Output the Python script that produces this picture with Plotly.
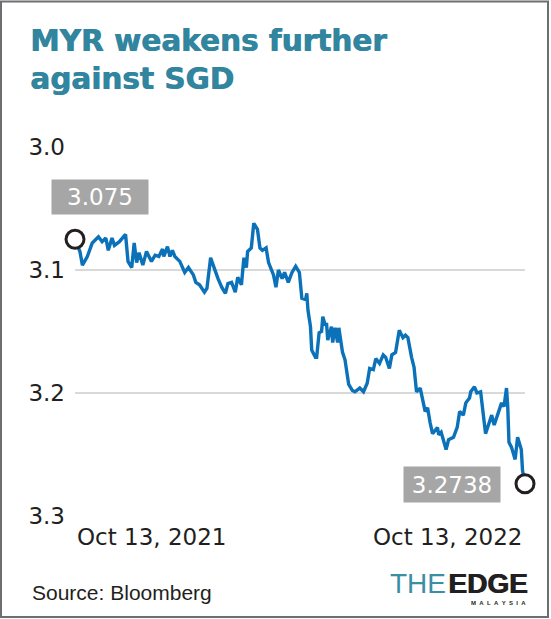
import plotly.graph_objects as go

# ---- data (MYR per SGD) ----
dates = [
    "2021-10-13", "2021-10-17", "2021-10-19", "2021-10-23", "2021-10-27",
    "2021-11-01", "2021-11-04", "2021-11-07", "2021-11-09", "2021-11-12", "2021-11-14",
    "2021-11-18", "2021-11-23", "2021-11-25", "2021-11-28", "2021-11-30",
    "2021-12-02", "2021-12-04", "2021-12-07", "2021-12-10", "2021-12-14", "2021-12-17",
    "2021-12-20", "2021-12-23", "2021-12-24", "2021-12-27", "2021-12-29", "2021-12-31",
    "2022-01-02", "2022-01-06", "2022-01-10", "2022-01-13", "2022-01-17", "2022-01-19",
    "2022-01-22", "2022-01-26", "2022-01-28", "2022-01-31",
    "2022-02-01", "2022-02-04", "2022-02-06", "2022-02-09", "2022-02-12", "2022-02-14",
    "2022-02-17", "2022-02-20", "2022-02-22", "2022-02-25", "2022-02-27",
    "2022-03-01", "2022-03-02", "2022-03-05", "2022-03-07", "2022-03-10", "2022-03-12",
    "2022-03-14", "2022-03-17", "2022-03-19", "2022-03-23", "2022-03-25", "2022-03-27",
    "2022-03-30",
    "2022-04-01", "2022-04-04", "2022-04-07", "2022-04-10", "2022-04-13", "2022-04-15",
    "2022-04-18", "2022-04-19", "2022-04-20", "2022-04-22", "2022-04-23", "2022-04-26",
    "2022-04-27", "2022-04-29",
    "2022-05-01", "2022-05-02", "2022-05-04", "2022-05-05", "2022-05-06", "2022-05-09",
    "2022-05-10", "2022-05-12", "2022-05-14", "2022-05-15", "2022-05-18", "2022-05-20",
    "2022-05-22", "2022-05-23", "2022-05-26", "2022-05-28",
    "2022-06-01", "2022-06-04", "2022-06-07", "2022-06-09", "2022-06-12", "2022-06-14",
    "2022-06-17", "2022-06-20", "2022-06-22", "2022-06-25", "2022-06-27", "2022-06-30",
    "2022-07-03", "2022-07-06", "2022-07-08", "2022-07-10", "2022-07-13", "2022-07-15",
    "2022-07-17", "2022-07-20", "2022-07-24", "2022-07-26", "2022-07-28", "2022-07-30",
    "2022-08-03", "2022-08-04", "2022-08-06", "2022-08-08", "2022-08-10", "2022-08-12",
    "2022-08-16", "2022-08-19", "2022-08-21", "2022-08-24", "2022-08-26", "2022-08-29",
    "2022-08-30",
    "2022-09-02", "2022-09-04", "2022-09-07", "2022-09-09", "2022-09-11", "2022-09-14",
    "2022-09-16", "2022-09-18", "2022-09-20", "2022-09-24", "2022-09-26", "2022-09-28",
    "2022-09-29", "2022-09-30",
    "2022-10-02", "2022-10-05", "2022-10-07", "2022-10-10", "2022-10-11", "2022-10-13",
]

values = [
    3.075, 3.085, 3.096, 3.089, 3.078,
    3.073, 3.077, 3.074, 3.084, 3.074, 3.080,
    3.077, 3.071, 3.093, 3.098, 3.078,
    3.094, 3.086, 3.096, 3.085, 3.093, 3.088,
    3.089, 3.083, 3.089, 3.081, 3.089, 3.084,
    3.089, 3.093, 3.102, 3.098, 3.104, 3.110,
    3.112, 3.118, 3.115, 3.090,
    3.093, 3.102, 3.107, 3.114, 3.119, 3.111,
    3.110, 3.118, 3.106, 3.112, 3.090,
    3.098, 3.085, 3.082, 3.062, 3.067, 3.082,
    3.084, 3.082, 3.094, 3.104, 3.114, 3.100,
    3.107,
    3.102, 3.110, 3.102, 3.097, 3.102, 3.123,
    3.124, 3.119, 3.133, 3.146, 3.165, 3.171,
    3.171, 3.151,
    3.150, 3.138, 3.145, 3.143, 3.157, 3.146,
    3.159, 3.147, 3.159, 3.147, 3.167, 3.173,
    3.187, 3.193, 3.198, 3.199,
    3.196, 3.199, 3.192, 3.180, 3.181, 3.172,
    3.176, 3.169, 3.171, 3.180, 3.169, 3.167,
    3.149, 3.155, 3.153, 3.155, 3.171, 3.179,
    3.199, 3.196, 3.215, 3.212, 3.224, 3.233,
    3.228, 3.234, 3.232, 3.238, 3.246, 3.238,
    3.236, 3.228, 3.215, 3.218, 3.208, 3.204,
    3.199,
    3.195, 3.200, 3.199, 3.216, 3.233, 3.224,
    3.218, 3.226, 3.220, 3.208, 3.211, 3.196,
    3.211, 3.240,
    3.244, 3.254, 3.236, 3.246, 3.263, 3.2738,
]

y_ticks = [3.0, 3.1, 3.2, 3.3]
y_tick_labels = ["3.0", "3.1", "3.2", "3.3"]
start_label = "Oct 13, 2021"
end_label = "Oct 13, 2022"
start_value_label = "3.075"
end_value_label = "3.2738"
title_text = "MYR weakens further<br>against SGD"
source_text = "Source: Bloomberg"

assert len(dates) == len(values)

# ---- layout geometry ----
W, H = 551, 619
L, R, T, B = 75, 26, 147, 103
PW, PH = W - L - R, H - T - B


def px(x):
    return (x - L) / PW


def py(y):
    return (H - B - y) / PH


AX_FONT = "DejaVu Sans"
DARK = "#231f20"
BLUE = "#0b72b9"
TEAL = "#31859f"
BOX = "#a6a6a6"

fig = go.Figure()
fig.add_trace(go.Scatter(
    x=dates, y=values, mode="lines",
    line=dict(color=BLUE, width=3.4), cliponaxis=False,
    hoverinfo="skip",
))
fig.add_trace(go.Scatter(
    x=[dates[0], dates[-1]], y=[values[0], values[-1]], mode="markers",
    marker=dict(size=18, color="white", line=dict(color=DARK, width=3)),
    cliponaxis=False, hoverinfo="skip",
))

annotations = [
    # title
    dict(text="<b>" + title_text + "</b>", xref="paper", yref="paper",
         x=px(28), y=py(22), xanchor="left", yanchor="top", align="left",
         showarrow=False,
         font=dict(family="DejaVu Sans", size=29.5, color=TEAL,
                   shadow="0.8px 0px 0px #31859f")),
    # value boxes
    dict(text=start_value_label, xref="paper", yref="paper",
         x=px(51), y=py(179), xanchor="left", yanchor="top",
         width=96, height=34, bgcolor=BOX, borderpad=0, showarrow=False,
         font=dict(family=AX_FONT, size=23, color="white")),
    dict(text=end_value_label, xref="paper", yref="paper",
         x=px(403), y=py(466), xanchor="left", yanchor="top",
         width=96, height=35, bgcolor=BOX, borderpad=0, showarrow=False,
         font=dict(family=AX_FONT, size=23, color="white")),
    # x labels
    dict(text=start_label, xref="x", yref="paper", x=dates[0], y=py(522),
         xanchor="left", yanchor="top", showarrow=False,
         font=dict(family=AX_FONT, size=23, color=DARK)),
    dict(text=end_label, xref="x", yref="paper", x=dates[-1], y=py(522),
         xanchor="right", yanchor="top", showarrow=False,
         font=dict(family=AX_FONT, size=23, color=DARK)),
    # source
    dict(text=source_text, xref="paper", yref="paper", x=px(30), y=py(592),
         xanchor="left", yanchor="middle", showarrow=False,
         font=dict(family="Liberation Sans", size=21, color=DARK)),
    # logo
    dict(text="THE", xref="paper", yref="paper", x=px(447), y=py(583),
         xanchor="right", yanchor="middle", showarrow=False, borderpad=0,
         font=dict(family="Liberation Sans", size=28, color="#3a8ea6")),
    dict(text="<b>EDGE</b>", xref="paper", yref="paper", x=px(528), y=py(583),
         xanchor="right", yanchor="middle", showarrow=False, borderpad=0,
         font=dict(family="Liberation Sans", size=28, color=DARK,
                   shadow="1px 0px 0px #231f20")),
    dict(text="<b>M\u00a0\u00a0A\u00a0\u00a0L\u00a0\u00a0A\u00a0\u00a0Y\u00a0\u00a0S\u00a0\u00a0I\u00a0\u00a0A</b>",
         xref="paper", yref="paper", x=px(527), y=py(599),
         xanchor="right", yanchor="top", showarrow=False, borderpad=0,
         font=dict(family="Liberation Sans", size=6, color=DARK)),
]

shapes = [
    dict(type="rect", xref="paper", yref="paper",
         x0=px(1), x1=px(548), y0=py(617), y1=py(1.5),
         line=dict(color="#6d6e71", width=2), fillcolor="rgba(0,0,0,0)", layer="below"),
]

fig.update_layout(
    width=W, height=H,
    margin=dict(l=L, r=R, t=T, b=B, pad=0),
    paper_bgcolor="white", plot_bgcolor="white",
    showlegend=False,
    annotations=annotations,
    shapes=shapes,
    xaxis=dict(range=[dates[0], dates[-1]], showgrid=False, zeroline=False,
               showticklabels=False, showline=False, ticks=""),
    yaxis=dict(range=[3.3, 3.0], tickvals=y_ticks, ticktext=y_tick_labels,
               showgrid=True, gridcolor="#d9d9d9", gridwidth=1.5,
               zeroline=False, showline=False, ticks="",
               ticklabelstandoff=9,
               tickfont=dict(family=AX_FONT, size=23, color=DARK)),
)

fig.write_html(
    "out.html",
    config={"displayModeBar": False, "staticPlot": True},
    post_script="document.body.style.margin='0';document.body.style.padding='0';",
)
